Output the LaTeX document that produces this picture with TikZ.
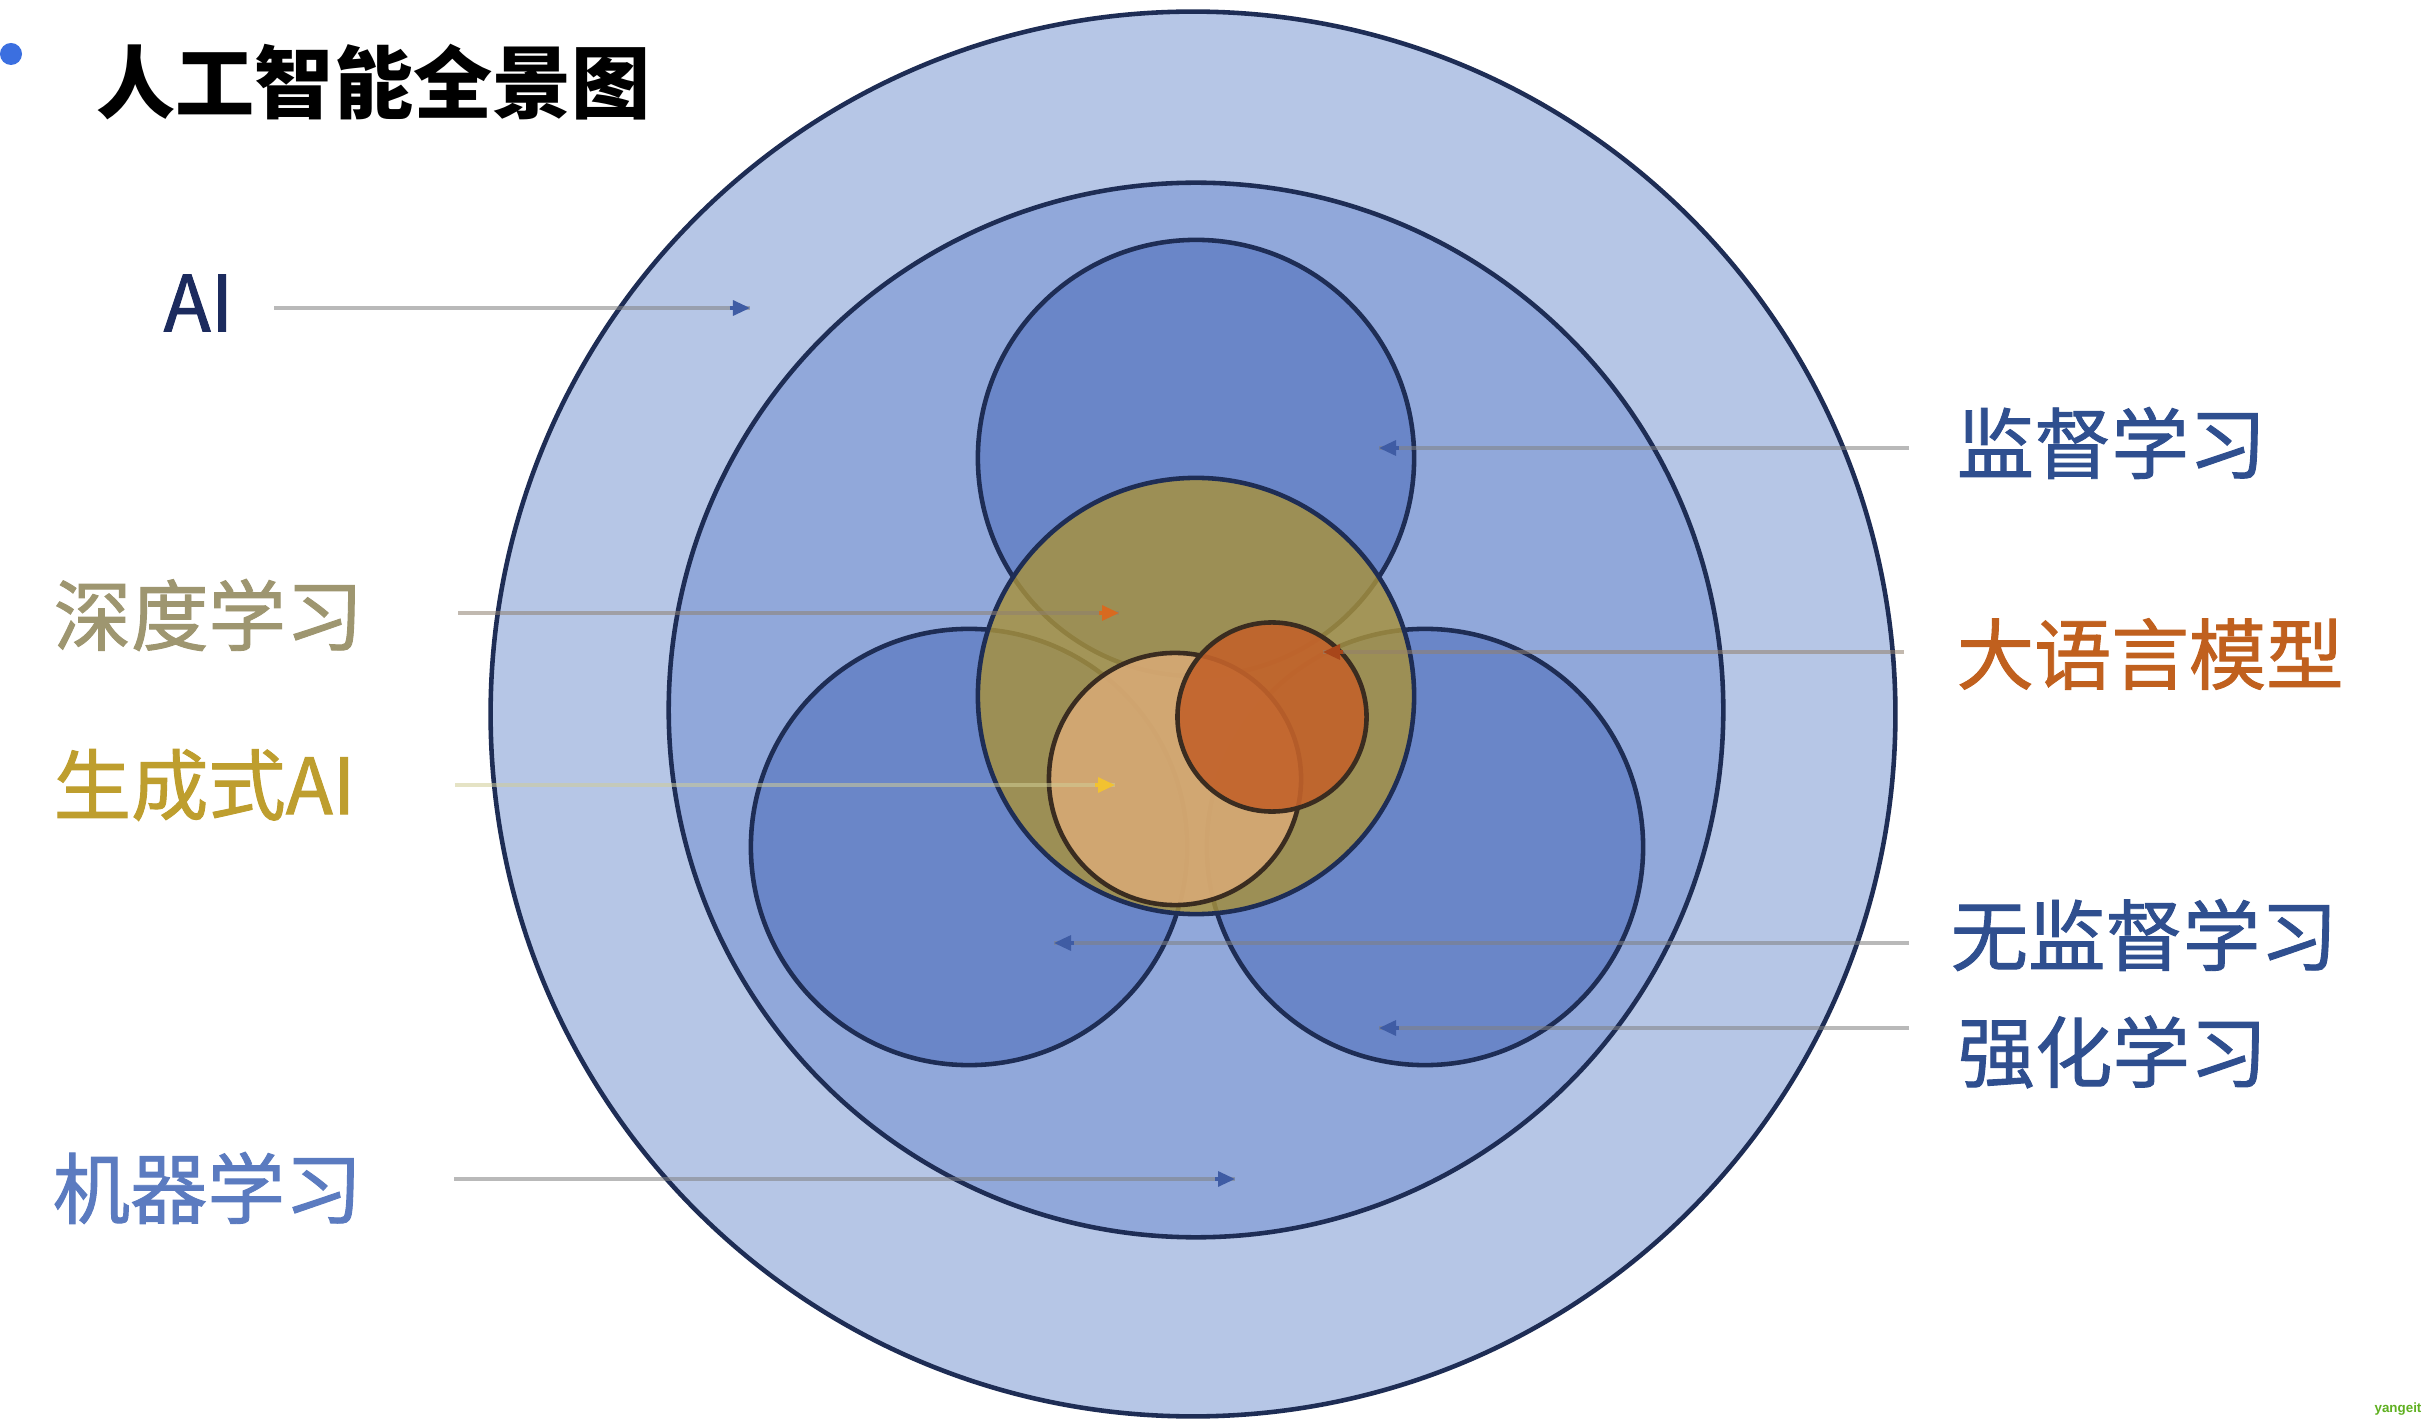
\documentclass[tikz,border=0pt]{standalone}
\usepackage{fontspec}
\newfontfamily\cjk{Noto Sans CJK SC}
\newfontfamily\cjkm{Noto Sans CJK SC}[FakeBold=1.2]
\usetikzlibrary{arrows.meta}
\definecolor{ringAI}{HTML}{B6C6E6}
\definecolor{ringML}{HTML}{91A8DA}
\definecolor{subBlue}{HTML}{6A86C8}
\definecolor{edgeNavy}{HTML}{1E2D55}
\definecolor{deepOlive}{HTML}{A8923C}
\definecolor{genTan}{HTML}{D8AA76}
\definecolor{llmOrange}{HTML}{C2622A}
\definecolor{edgeBrown}{HTML}{3A2C20}
\definecolor{txtNavy}{HTML}{1C2B5E}
\definecolor{txtKhaki}{HTML}{9E9670}
\definecolor{txtGold}{HTML}{BE9E2E}
\definecolor{txtML}{HTML}{5B7BC0}
\definecolor{txtBlue}{HTML}{2F4F8F}
\definecolor{txtOrange}{HTML}{C0601E}
\definecolor{tipOrange}{HTML}{D86A20}
\definecolor{tipYellow}{HTML}{F2C230}
\definecolor{tipBlue}{HTML}{3F5CA4}
\definecolor{tipBrown}{HTML}{A8461A}
\definecolor{dotBlue}{HTML}{3B6FE0}
\definecolor{wmGreen}{HTML}{5FB020}
\tikzset{
  ring/.style={draw=edgeNavy, line width=1.3pt},
  warmring/.style={draw=edgeBrown, line width=1.3pt},
  lbl/.style={anchor=west, inner sep=0pt, font=\cjkm\fontsize{22pt}{26pt}\selectfont},
  leader/.style={line width=0.9pt, draw opacity=0.55},
  tiphead/.style={line width=0.9pt, -{Triangle[length=0.17cm,width=0.15cm]}},
}
\begin{document}
\begin{tikzpicture}[x=0.01cm,y=-0.01cm]
\useasboundingbox (0,0) rectangle (2430,1425);
\fill[white] (0,0) rectangle (2430,1425);

% title
\fill[dotBlue] (11,54) circle[radius=0.11cm];
\node[anchor=west, inner sep=0pt, font=\cjk\bfseries\fontsize{22.5pt}{27pt}\selectfont] (title) at (96,82) {人工智能全景图};

% circles
\node[circle, ring, fill=ringAI, minimum size=14.04cm, inner sep=0pt] (cAI) at (1193,714) {};
\node[circle, ring, fill=ringML, minimum size=10.54cm, inner sep=0pt] (cML) at (1196,710) {};
\node[circle, ring, fill=subBlue, minimum size=4.36cm, inner sep=0pt] (cSup) at (1196,458) {};
\node[circle, ring, fill=subBlue, minimum size=4.36cm, inner sep=0pt] (cUns) at (969,847) {};
\node[circle, ring, fill=subBlue, minimum size=4.36cm, inner sep=0pt] (cRL) at (1425,847) {};
\node[circle, ring, fill=deepOlive, fill opacity=0.82, minimum size=4.36cm, inner sep=0pt] (cDL) at (1196,696) {};
\node[circle, warmring, fill=genTan, fill opacity=0.88, minimum size=2.52cm, inner sep=0pt] (cGen) at (1175,779) {};
\node[circle, warmring, fill=llmOrange, fill opacity=0.9, minimum size=1.89cm, inner sep=0pt] (cLLM) at (1272,717) {};

% labels
\node[lbl, text=txtNavy] (lAI) at (163,303) {AI};
\node[lbl, text=txtKhaki] (lDL) at (53,615) {深度学习};
\node[lbl, text=txtGold] (lGen) at (53,785) {生成式AI};
\node[lbl, text=txtML] (lML) at (52,1188) {机器学习};
\node[lbl, text=txtBlue] (lSup) at (1956,443) {监督学习};
\node[lbl, text=txtOrange] (lLLM) at (1956,654) {大语言模型};
\node[lbl, text=txtBlue] (lUns) at (1950,935) {无监督学习};
\node[lbl, text=txtBlue] (lRL) at (1957,1052) {强化学习};

% leader start / tip coordinates
\coordinate (sAI) at (274,308);   \coordinate (tAI) at (750,308);
\coordinate (sDL) at (458,613);   \coordinate (tDL) at (1119,613);
\coordinate (sGen) at (455,785);  \coordinate (tGen) at (1115,785);
\coordinate (sML) at (454,1179);  \coordinate (tML) at (1235,1179);
\coordinate (sSup) at (1909,448); \coordinate (tSup) at (1379,448);
\coordinate (sLLM) at (1904,652); \coordinate (tLLM) at (1323,652);
\coordinate (sUns) at (1909,943); \coordinate (tUns) at (1054,943);
\coordinate (sRL) at (1909,1028); \coordinate (tRL) at (1379,1028);

% leader lines
\draw[leader, draw=gray] (sAI) -- (tAI);
\draw[leader, draw=gray!75!brown] (sDL) -- (tDL);
\draw[leader, draw=gray!60!yellow!70!white] (sGen) -- (tGen);
\draw[leader, draw=gray] (sML) -- (tML);
\draw[leader, draw=gray] (sSup) -- (tSup);
\draw[leader, draw=gray!70!brown] (sLLM) -- (tLLM);
\draw[leader, draw=gray] (sUns) -- (tUns);
\draw[leader, draw=gray] (sRL) -- (tRL);

% arrow heads
\draw[tiphead, draw=tipBlue, fill=tipBlue] ([xshift=-0.2cm]tAI) -- (tAI);
\draw[tiphead, draw=tipOrange, fill=tipOrange] ([xshift=-0.2cm]tDL) -- (tDL);
\draw[tiphead, draw=tipYellow, fill=tipYellow] ([xshift=-0.2cm]tGen) -- (tGen);
\draw[tiphead, draw=tipBlue, fill=tipBlue] ([xshift=-0.2cm]tML) -- (tML);
\draw[tiphead, draw=tipBlue, fill=tipBlue] ([xshift=0.2cm]tSup) -- (tSup);
\draw[tiphead, draw=tipBrown, fill=tipBrown] ([xshift=0.2cm]tLLM) -- (tLLM);
\draw[tiphead, draw=tipBlue, fill=tipBlue] ([xshift=0.2cm]tUns) -- (tUns);
\draw[tiphead, draw=tipBlue, fill=tipBlue] ([xshift=0.2cm]tRL) -- (tRL);

% watermark
\node[anchor=center, inner sep=0pt, text=wmGreen, font=\fontspec{Liberation Sans}\bfseries\fontsize{3.8pt}{4pt}\selectfont] (wm) at (2398,1409) {yangeit};
\end{tikzpicture}
\end{document}
